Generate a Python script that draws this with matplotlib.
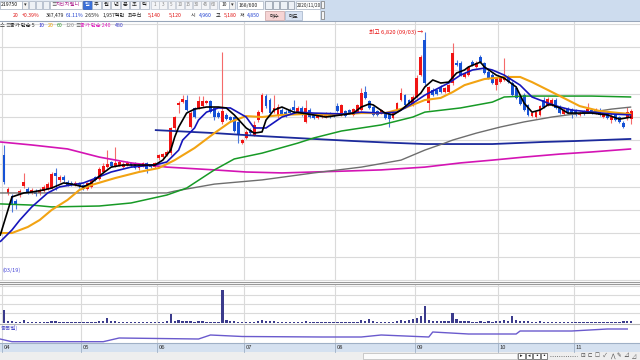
import numpy as np
import matplotlib
matplotlib.use('Agg')
import matplotlib.pyplot as plt
from matplotlib.patches import Rectangle
from matplotlib.lines import Line2D
from matplotlib.transforms import blended_transform_factory

plt.rcParams['font.family'] = ['Noto Sans CJK KR', 'DejaVu Sans']

# 219750 daily candles, 2020-04-01 .. 2020-11-20 (won)
opens = [4185, 3370, 3305, 3200, 3325, 3520, 3455, 3370, 3410, 3370,
         3410, 3455, 3475, 3800, 3650, 3715, 3605, 3585, 3540, 3585,
         3540, 3455, 3500, 3715, 3670, 3820, 3925, 4035, 3950, 3970,
         3925, 3970, 4015, 4015, 3905, 3950, 4015, 3970, 3925, 4120,
         4140, 4185, 4225, 4765, 5260, 5320, 5365, 4785, 5195, 5195,
         5235, 5300, 5345, 5195, 5085, 4895, 5045, 5000, 5000, 4895,
         4440, 4550, 4720, 4615, 4935, 5105, 5450, 5365, 5105, 5020,
         5150, 5105, 5150, 5215, 5085, 5195, 4895, 5150, 5065, 4980,
         5000, 5000, 5085, 5065, 5235, 5045, 5130, 5150, 5045, 5105,
         5150, 5535, 5345, 5215, 5130, 5085, 5085, 5065, 4980, 5150,
         5365, 5470, 5365, 5260, 5430, 5900, 6655, 5300, 5580, 5580,
         5645, 5535, 5535, 5730, 6160, 6160, 5860, 5900, 6180, 6075,
         6290, 6160, 5965, 5900, 5685, 5750, 5795, 5860, 5730, 5625,
         5450, 5470, 5260, 5020, 5000, 5045, 5365, 5260, 5260, 5365,
         5215, 5065, 5170, 5170, 5150, 5045, 5130, 5105, 5150, 5085,
         5150, 5000, 5085, 4935, 5045, 5000, 4870, 4980, 4960]
highs = [4400, 3500, 3350, 3240, 3455, 3800, 3500, 3475, 3455, 3475,
         3540, 3605, 3820, 3905, 3755, 3755, 3650, 3625, 3625, 3605,
         3560, 3605, 3670, 3735, 3925, 4015, 4290, 4055, 4355, 4075,
         4035, 4055, 4035, 4035, 3990, 4035, 4035, 3990, 4035, 4205,
         4225, 4290, 4785, 5020, 5345, 5470, 5470, 5130, 5215, 5450,
         5450, 5365, 5365, 5215, 5130, 6395, 5085, 5020, 5020, 4915,
         4530, 4720, 4765, 4915, 5150, 5515, 5495, 5410, 5470, 5280,
         5195, 5150, 5195, 5365, 5235, 5235, 5365, 5195, 5085, 5065,
         5085, 5105, 5105, 5085, 5300, 5280, 5150, 5170, 5195, 5280,
         5625, 5665, 5365, 5235, 5150, 5170, 5105, 5085, 5130, 5320,
         5625, 5495, 5385, 5470, 5900, 6330, 6820, 5665, 5625, 5600,
         5685, 5645, 5710, 6590, 6225, 6200, 5965, 6095, 6225, 6200,
         6330, 6180, 6010, 5945, 5860, 5880, 6265, 5900, 5770, 5665,
         5470, 5515, 5280, 5105, 5130, 5260, 5430, 5430, 5410, 5410,
         5260, 5195, 5215, 5195, 5170, 5130, 5150, 5300, 5170, 5195,
         5195, 5065, 5105, 5085, 5065, 5020, 4915, 5215, 5180]
lows = [3560, 3325, 2960, 3025, 3285, 3475, 3350, 3350, 3305, 3325,
        3390, 3435, 3455, 3435, 3605, 3605, 3520, 3520, 3520, 3475,
        3435, 3435, 3475, 3625, 3650, 3800, 3905, 3925, 3925, 3950,
        3905, 3950, 3925, 3885, 3865, 3925, 3800, 3905, 3905, 4075,
        4120, 4165, 4185, 4720, 5085, 5300, 5130, 4765, 4980, 5170,
        5215, 5280, 5085, 4935, 4980, 4850, 4935, 4895, 4680, 4440,
        4420, 4530, 4615, 4590, 4895, 5085, 5195, 5065, 5085, 4980,
        5045, 5000, 5065, 5105, 5065, 5020, 4870, 4980, 4955, 4955,
        4980, 4980, 4980, 5000, 5105, 5020, 5000, 5065, 5020, 5085,
        5130, 5385, 5170, 5020, 5020, 5065, 4955, 4785, 4955, 5130,
        5345, 5235, 5280, 5235, 5410, 5880, 5685, 5150, 5450, 5470,
        5515, 5515, 5515, 5685, 6095, 5880, 5835, 5880, 6095, 6050,
        6160, 5925, 5815, 5710, 5580, 5730, 5770, 5730, 5450, 5385,
        5260, 5130, 5020, 5000, 4980, 5020, 5195, 5235, 5235, 5170,
        5065, 5045, 5065, 4980, 5020, 5020, 5045, 5085, 5065, 5065,
        5020, 4980, 4955, 4870, 4915, 4870, 4765, 4935, 4850]
closes = [3605, 3455, 3110, 3135, 3410, 3605, 3390, 3435, 3350, 3435,
          3500, 3560, 3775, 3735, 3715, 3650, 3540, 3540, 3585, 3520,
          3455, 3585, 3650, 3650, 3885, 3950, 3990, 3950, 4015, 4035,
          3990, 4015, 3970, 3905, 3970, 4015, 3885, 3925, 4015, 4185,
          4205, 4250, 4765, 5000, 5300, 5385, 5150, 5085, 5000, 5345,
          5345, 5345, 5105, 5000, 5000, 5130, 4955, 4935, 4700, 4615,
          4505, 4680, 4655, 4830, 5105, 5470, 5235, 5085, 5195, 5215,
          5065, 5045, 5085, 5150, 5195, 5045, 5195, 5000, 4980, 5045,
          5065, 5085, 5000, 5020, 5130, 5260, 5020, 5085, 5170, 5260,
          5515, 5410, 5195, 5045, 5045, 5150, 4980, 4955, 5105, 5300,
          5515, 5260, 5300, 5430, 5835, 6290, 5730, 5645, 5470, 5495,
          5535, 5625, 5685, 6375, 6115, 5900, 5945, 6075, 6115, 6160,
          6180, 5945, 5835, 5730, 5835, 5835, 5835, 5750, 5470, 5410,
          5280, 5150, 5045, 5085, 5105, 5235, 5215, 5385, 5365, 5195,
          5085, 5150, 5085, 5045, 5045, 5085, 5065, 5170, 5085, 5170,
          5045, 5045, 4980, 5000, 4935, 4895, 4785, 5100, 5120]
# thousand shares
volume = [2480, 390, 330, 250, 220, 530, 220, 200, 180, 200,
          230, 260, 390, 300, 220, 200, 180, 170, 160, 170,
          180, 220, 240, 200, 330, 390, 920, 300, 300, 220,
          200, 190, 180, 190, 180, 170, 200, 170, 190, 260,
          240, 300, 1700, 390, 530, 300, 330, 300, 270, 330,
          330, 260, 270, 250, 220, 6380, 530, 330, 300, 280,
          220, 230, 200, 220, 300, 640, 480, 330, 300, 250,
          220, 200, 190, 230, 200, 190, 300, 220, 190, 180,
          170, 180, 170, 180, 250, 260, 200, 190, 210, 260,
          640, 330, 700, 300, 240, 220, 230, 260, 240, 330,
          530, 390, 640, 840, 975, 1300, 3300, 530, 390, 330,
          330, 390, 350, 1950, 840, 390, 330, 300, 280, 260,
          300, 280, 300, 290, 330, 330, 640, 390, 1300, 530,
          390, 400, 330, 280, 260, 300, 280, 260, 240, 250,
          230, 220, 210, 230, 220, 210, 200, 260, 210, 220,
          230, 220, 240, 230, 240, 260, 300, 390, 387]

month_labels = ['04', '05', '06', '07', '08', '09', '10', '11']
month_start = [0, 20, 39, 61, 84, 104, 125, 144]

# simple moving averages (day index, won)
ma5_day = [-1, 1, 2, 5, 7, 10, 12, 15, 17, 20, 22, 25, 27, 30, 34, 38, 40, 42, 43, 44,
           46, 48, 51, 54, 56, 58, 61, 63, 65, 66, 68, 70, 73, 75, 78, 81, 85, 88, 90, 92,
           93, 96, 98, 100, 103, 105, 106, 108, 110, 112, 114, 116, 117, 120, 121, 124, 126, 129, 131, 133,
           135, 137, 138, 140, 142, 145, 148, 152, 155, 158]
ma5_val = [2450, 3005, 3285, 3370, 3390, 3435, 3475, 3585, 3560, 3500, 3585, 3800, 3925, 3970, 3970, 3970, 4075, 4290, 4570, 4785,
           5085, 5170, 5215, 5215, 5195, 5045, 4765, 4655, 4680, 4935, 5150, 5215, 5105, 5085, 5045, 5000, 5045, 5085, 5215, 5280,
           5260, 5085, 5045, 5150, 5365, 5515, 5645, 5795, 5730, 5750, 5945, 6010, 6075, 6180, 6075, 5900, 5835, 5645, 5300, 5105,
           5150, 5260, 5260, 5195, 5085, 5085, 5085, 5045, 4955, 5000]
ma10_day = [-1, 2, 4, 7, 11, 14, 20, 22, 27, 32, 38, 41, 44, 45, 48, 49, 51, 54, 57, 61,
            63, 66, 70, 74, 78, 86, 90, 95, 99, 101, 103, 106, 110, 112, 115, 118, 121, 123, 126, 130,
            133, 137, 140, 143, 148, 153, 158]
ma10_val = [2320, 2575, 2790, 3070, 3370, 3500, 3585, 3650, 3820, 3925, 3970, 4035, 4290, 4505, 4765, 4935, 5105, 5195, 5195, 5000,
            4765, 4765, 5000, 5105, 5085, 5065, 5105, 5085, 5105, 5195, 5300, 5470, 5645, 5730, 5900, 6010, 6050, 6010, 5900, 5685,
            5430, 5300, 5215, 5150, 5105, 5065, 5045]
ma20_day = [-1, 2, 6, 9, 12, 16, 19, 22, 28, 34, 39, 43, 48, 53, 57, 61, 65, 70, 76, 82,
            90, 96, 101, 106, 110, 113, 116, 121, 126, 130, 133, 137, 142, 145, 150, 155, 158]
ma20_val = [2510, 2510, 2640, 2790, 3005, 3220, 3435, 3540, 3690, 3820, 3905, 4075, 4335, 4655, 4895, 5020, 5000, 5045, 5065, 5045,
            5085, 5085, 5195, 5365, 5410, 5535, 5685, 5815, 5860, 5860, 5750, 5580, 5365, 5235, 5130, 5085, 5065]
ma60_day = [-1, 7, 12, 24, 32, 41, 46, 53, 58, 65, 74, 78, 85, 95, 103, 106, 115, 123, 126, 131, 140, 148, 158]
ma60_val = [3135, 3110, 3070, 3090, 3155, 3325, 3475, 3865, 4100, 4225, 4440, 4550, 4700, 4830, 5000, 5105, 5195, 5320, 5430, 5450,
            5450, 5450, 5430]
ma120_day = [-1, 41, 43, 53, 65, 78, 90, 100, 106, 111, 113, 119, 125, 131, 138, 142, 148, 153, 158]
ma120_val = [3370, 3370, 3410, 3560, 3650, 3800, 3925, 4075, 4290, 4440, 4505, 4655, 4785, 4895, 5000, 5045, 5105, 5170, 5215]
ma240_day = [-1, 7, 16, 24, 32, 41, 53, 61, 70, 78, 86, 95, 106, 115, 123, 131, 140, 148, 158]
ma240_val = [4465, 4400, 4315, 4140, 4015, 3925, 3865, 3820, 3800, 3820, 3840, 3865, 3925, 4015, 4075, 4140, 4205, 4250, 4315]
ma480_day = [38, 53, 65, 78, 88, 97, 106, 123, 136, 144, 158]
ma480_val = [4720, 4655, 4590, 4530, 4485, 4450, 4420, 4420, 4465, 4485, 4530]

# lower indicator pane
sub_day = [-1, 2, 25, 29, 49, 52, 60, 80, 90, 95, 107, 108, 117, 129, 130, 143, 152, 157]
sub_val = [4, 1.3, 1.3, 5, 4, 8, 6.5, 6, 6, 8, 6, 11, 9, 9, 12, 12, 14, 14]

W, H = 640, 360


def fx(x):
    return x / W


def fy(y):
    return 1 - y / H


fig = plt.figure(figsize=(6.4, 3.6), dpi=100)
fig.patch.set_facecolor('white')

ax = fig.add_axes([0, fy(281), 1, 259 / H])
vax = fig.add_axes([0, fy(323), 1, 39 / H])
sax = fig.add_axes([0, fy(343), 1, 18 / H])

days = np.arange(len(closes))
grid_x = [m - 0.5 for m in month_start]
for a in (ax, vax, sax):
    a.set_xlim(-1.008, 160.2)
    a.set_facecolor('white')
    for s in a.spines.values():
        s.set_visible(False)
    a.set_xticks(grid_x)
    a.tick_params(length=0, labelbottom=False, labelleft=False)
    a.grid(axis='x', color='#dadada', lw=0.8)
    a.set_axisbelow(True)

# price pane
ax.set_ylim(1480, 7040)
ax.set_yticks(np.arange(1500, 7001, 500))
ax.grid(axis='y', color='#dadada', lw=0.8)

o = np.array(opens, float)
hi = np.array(highs, float)
lo = np.array(lows, float)
c = np.array(closes, float)
up = c >= o
body_col = np.where(up, '#f01414', '#1652d6')
wick_col = np.where(up, '#f56a6a', '#4a78dc')
ax.vlines(days, lo, hi, colors=wick_col, lw=0.8, zorder=3)
ax.bar(days, np.maximum(np.abs(c - o), 14), bottom=np.minimum(o, c),
       width=0.72, color=body_col, lw=0, zorder=4)

ma_lines = [
    (ma480_day, ma480_val, '#1c2a9c', 1.3),
    (ma240_day, ma240_val, '#d414b4', 1.2),
    (ma120_day, ma120_val, '#6e6e6e', 1.0),
    (ma60_day, ma60_val, '#179a26', 1.1),
    (ma20_day, ma20_val, '#f2a312', 1.5),
    (ma10_day, ma10_val, '#1515bc', 1.2),
    (ma5_day, ma5_val, '#000000', 1.2),
]
for d, v, col, lw in ma_lines:
    ax.plot(d, v, color=col, lw=lw, zorder=5, solid_capstyle='butt')

top = int(np.argmax(highs))
ax.text(top - 0.5, highs[top], '최고 6,820 (09/03) →', ha='right', va='center',
        color='#e81010', fontsize=4.2, zorder=6)
ax.text(-0.5, 1720, '(03/19)', ha='left', va='center', color='#4646d8', fontsize=4.0)

# volume pane
vax.set_ylim(0, 7600)
vax.set_yticks(np.arange(1950, 7600, 1755))
vax.grid(axis='y', color='#dadada', lw=0.8)
vax.bar(days, volume, width=0.6, color='#3b3b8c', lw=0)

# sub pane
sax.set_ylim(0, 18)
sax.plot(sub_day, sub_val, color='#6a5acd', lw=1.0)
fig.text(fx(0.5), fy(328), '종목별)', fontsize=4.0, color='#5050c8', va='center')

# pane separators
for yy, col in [(281.5, '#9a9a9a'), (283.5, '#9a9a9a'), (323.5, '#b4b4b4')]:
    fig.add_artist(Line2D([0, 1], [fy(yy)] * 2, color=col, lw=0.8))

# date band
fig.add_artist(Rectangle((0, fy(352)), 1, 9 / H, transform=fig.transFigure,
                         facecolor='#d5e1f0', edgecolor='none'))
fig.add_artist(Line2D([0, 1], [fy(343)] * 2, color='#9fb0c6', lw=0.8))
band = blended_transform_factory(sax.transData, fig.transFigure)
for m, lab in zip(month_start, month_labels):
    fig.add_artist(Line2D([m - 0.5] * 2, [fy(343), fy(352)], transform=band,
                          color='#9fb0c6', lw=0.6))
    fig.text(m - 0.1, fy(347.7), lab, transform=band, fontsize=4.2,
             color='#303030', va='center')

# bottom strip with scroller
fig.add_artist(Rectangle((0, 0), 1, 8 / H, transform=fig.transFigure,
                         facecolor='#eeeeee', edgecolor='none'))


def box(x, y, w, h, fc, ec='#a8b2c2', lw=0.5):
    fig.add_artist(Rectangle((fx(x), fy(y + h)), w / W, h / H, transform=fig.transFigure,
                             facecolor=fc, edgecolor=ec, lw=lw))


def label(x, y, s, color='#222222', size=3.8, ha='left'):
    fig.text(fx(x), fy(y), s, color=color, fontsize=size, ha=ha, va='center')


box(363, 353, 154, 6, '#fbfbfb', '#b8b8b8')
for k, g in enumerate(['▸', '◂', '▪', '▪']):
    box(518 + 7.5 * k, 352.5, 6.5, 6.5, '#ffffff', '#555555')
    label(521.3 + 7.5 * k, 355.8, g, '#222222', 3.6, 'center')
fig.add_artist(Line2D([fx(550), fx(577)], [fy(356)] * 2, color='#555555', lw=0.6, ls=':'))
for k, g in enumerate(['⊡', '⊏', '☐', '✓', '⋀', '✎', '⊿', '◿']):
    label(583 + 7.2 * k, 355.8, g, '#444444', 4.0, 'center')

# header
box(0, 0, 320, 10.5, '#e4eaf3', 'none')
box(320, 0, 320, 21, '#cddcee', 'none')
box(0, 10.5, 320, 10.5, '#ffffff', 'none')
fig.add_artist(Line2D([0, 1], [fy(21.3)] * 2, color='#98a6ba', lw=0.8))
box(321, 1.5, 3, 6, '#f4f4f4', '#777777')
box(321, 11.5, 3, 7, '#f4f4f4', '#777777')

box(0, 1, 22, 8, '#ffffff')
label(1, 5, '219750', '#111111', 3.7)
box(22, 1, 6, 8, '#f2f2f2')
label(25, 5, '▾', '#333333', 3.8, 'center')
for k in range(3):
    box(29 + 7 * k, 1.5, 6, 7, '#eef1f6')
box(50, 1, 32, 8, '#ffffff')
label(51, 5, '≡', '#555555', 3.8)
label(56, 5, '지티지웰니', '#b02a90', 3.8)
box(83, 1, 8.5, 8, '#3a6fd8', '#2b55b0')
label(87.2, 5, '일', '#ffffff', 3.8, 'center')
for k, g in enumerate(['주', '월', '년', '분', '초', '틱']):
    box(92 + 9.6 * k, 1, 8.5, 8, '#f6f7fa')
    label(96.2 + 9.6 * k, 5, g, '#222222', 3.8, 'center')
for k, g in enumerate(['1', '3', '5', '10', '15', '30', '45', '60']):
    box(151 + 8.4 * k, 1.5, 7.6, 7, '#f3f4f7', '#c2c8d2')
    label(154.8 + 8.4 * k, 5, g, '#8a8a8a', 3.4, 'center')
box(219, 1, 10, 8, '#ffffff')
label(224, 5, '10', '#222222', 3.6, 'center')
box(229, 1, 6, 8, '#f2f2f2')
label(232, 5, '▾', '#333333', 3.8, 'center')
box(237, 1, 26, 8, '#ffffff')
label(239, 5, '168/600', '#222222', 3.7)
for k in range(4):
    box(265 + 7.6 * k, 1.5, 6.6, 7, '#eef1f6', '#8a93a2')
box(296, 1, 24, 8, '#ffffff')
label(297, 5, '2020/11/20', '#222222', 3.3)

row2 = [('20', 13, '#e01010'), ('+0.39%', 22, '#e01010'), ('387,479', 46, '#222222'),
        ('61.11%', 66, '#2040d0'), ('2.65%', 85, '#222222'), ('1,957백만', 103, '#222222'),
        ('최우선', 128, '#222222'), ('5,140', 148, '#e01010'), ('5,120', 169, '#e01010'),
        ('시', 191, '#222222'), ('4,960', 199, '#2040d0'), ('고', 216, '#222222'),
        ('5,180', 224, '#e01010'), ('저', 240, '#222222'), ('4,850', 247, '#2040d0')]
for s, x, col in row2:
    label(x, 15.8, s, col, 3.7)
box(265, 11.5, 19, 8.5, '#f6d4d4', '#c8a0a0')
label(274.5, 15.8, '매수', '#222222', 3.8, 'center')
box(285, 11.5, 17, 8.5, '#d8e2f2', '#9fb0c6')
label(293.5, 15.8, '매도', '#222222', 3.8, 'center')

legend = [('스', 0, '#333333'), ('≡', 5, '#555555'), ('종가 단순 5', 9.5, '#222222'),
          ('10', 38, '#2a2ad0'), ('20', 47.5, '#e8a000'), ('60', 56.5, '#2a9a2a'),
          ('120', 65, '#8a8a8a'), ('≡', 75, '#555555'), ('종가 단순 240', 80, '#e020c0'),
          ('480', 115, '#3a3ac8')]
for s, x, col in legend:
    label(x, 25.5, s, col, 3.8)

fig.savefig('out.png', dpi=100)
